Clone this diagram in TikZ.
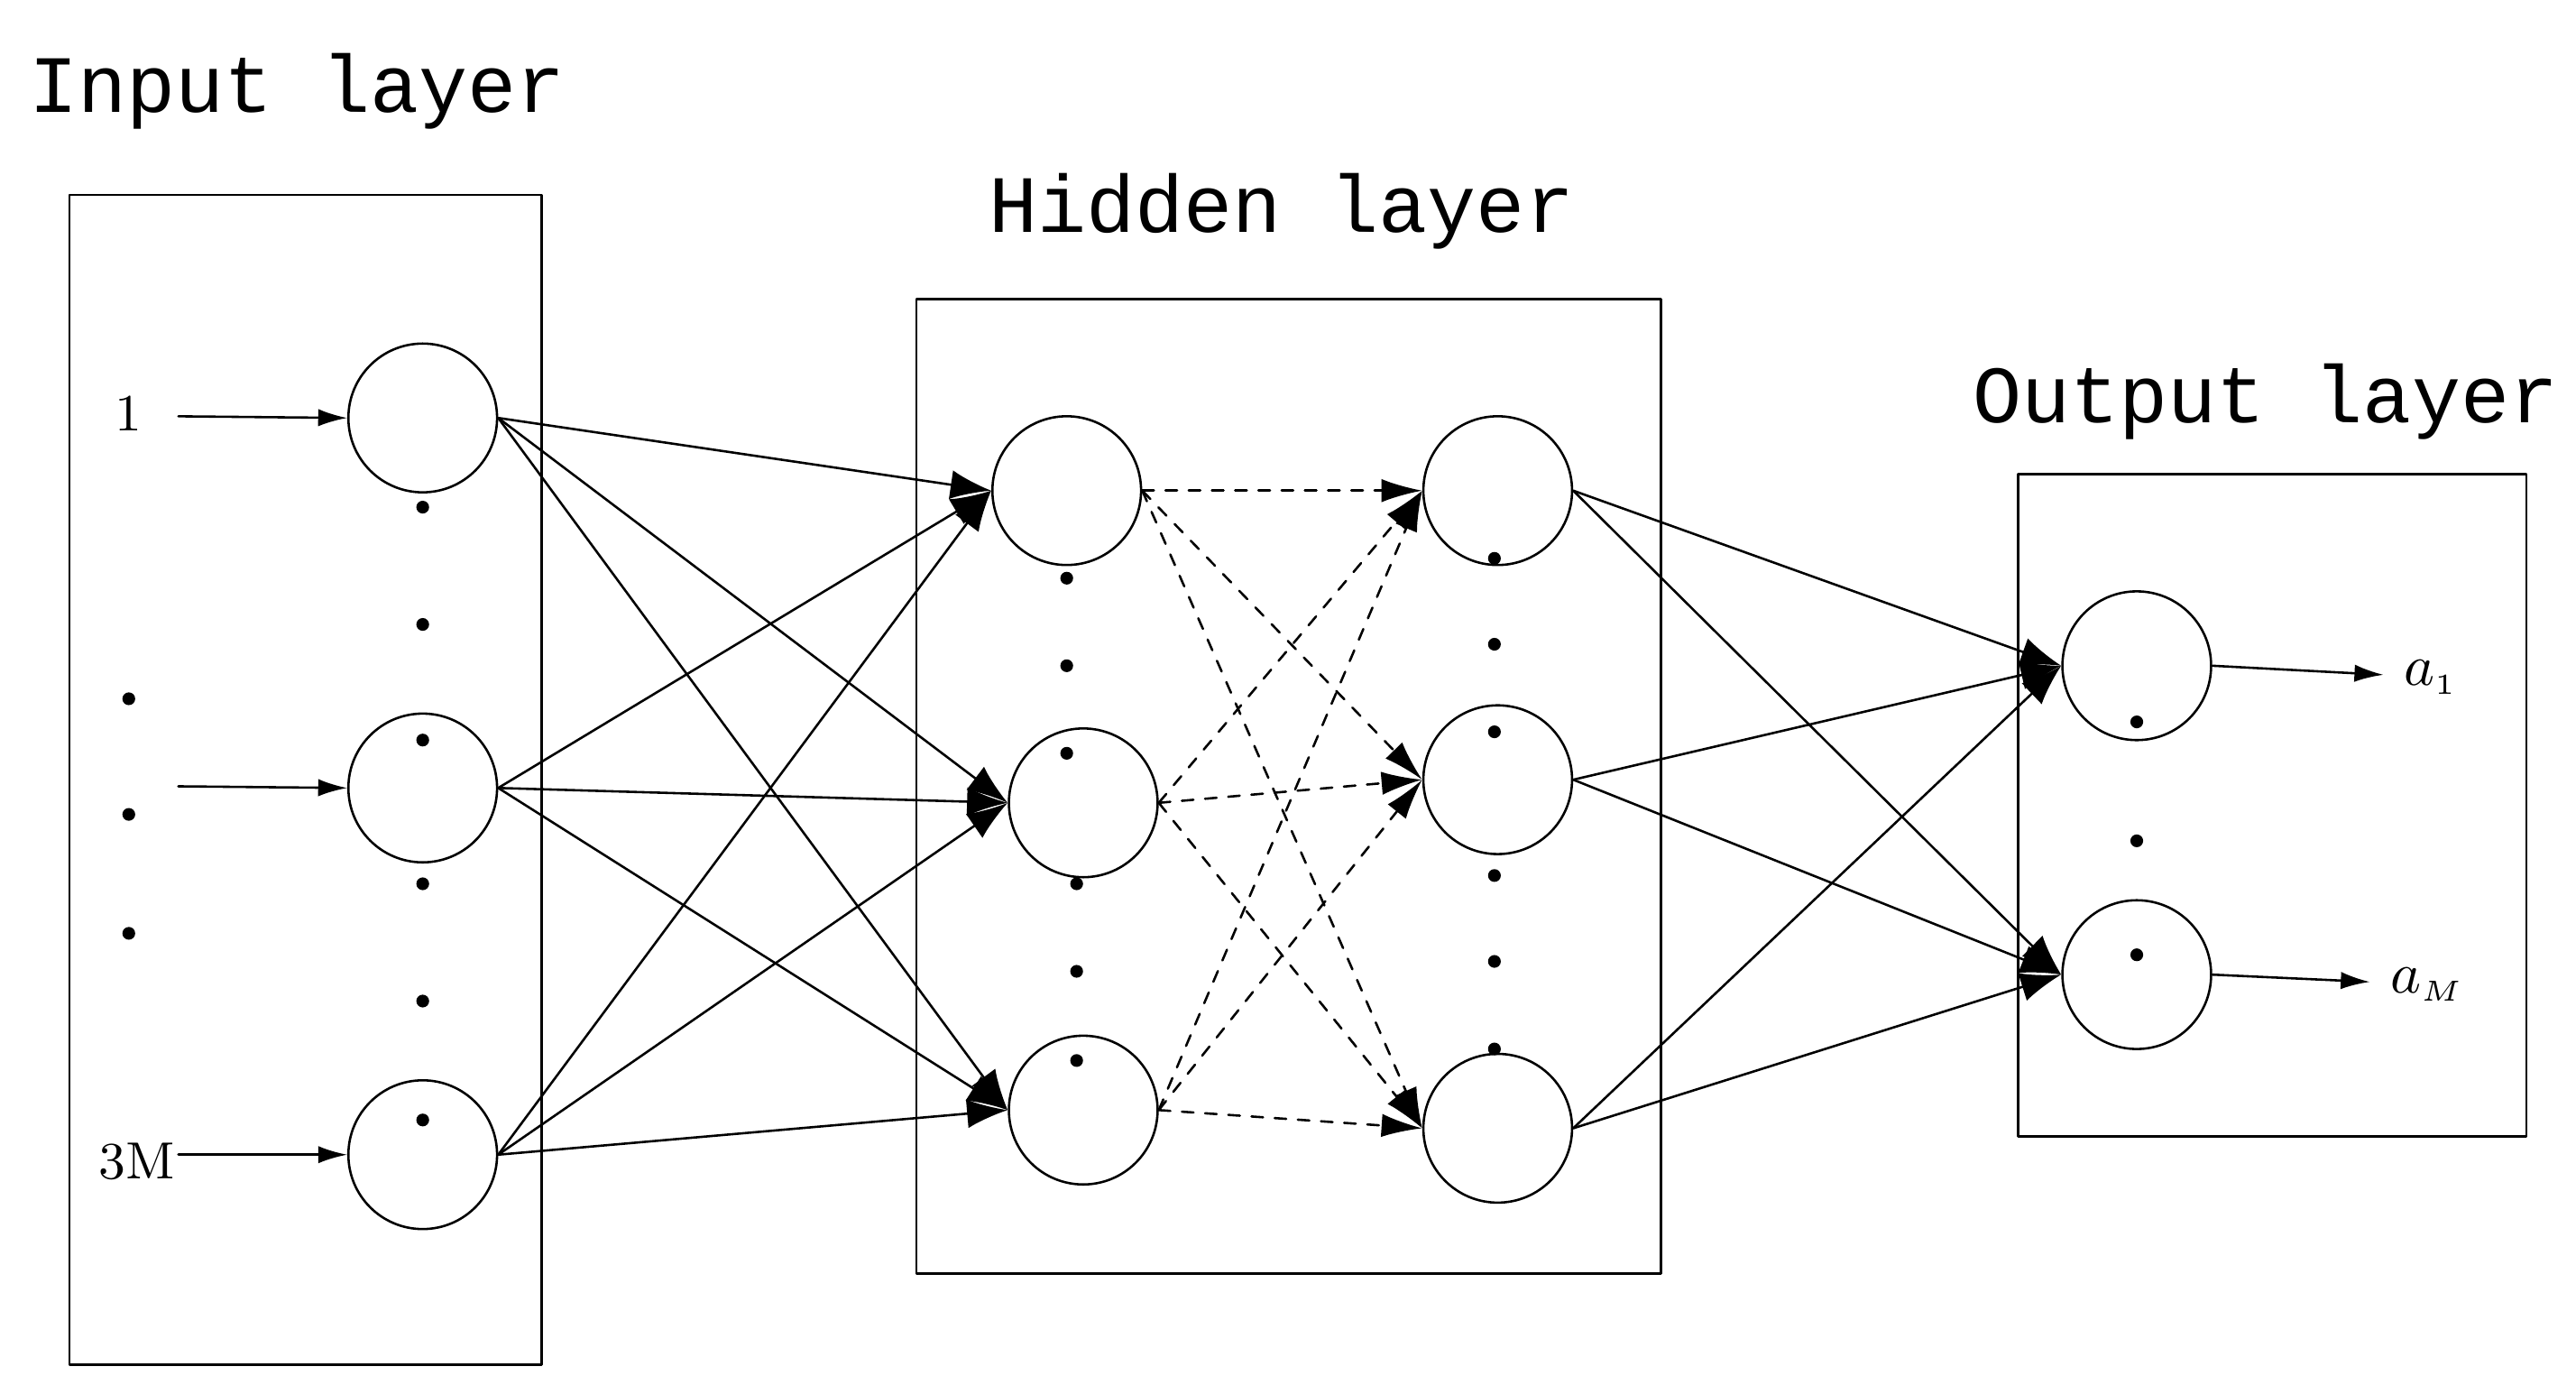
\documentclass[tikz,border=0pt]{standalone}
\usepackage{fontspec}
\newfontfamily\monofont{Liberation Mono}
\usetikzlibrary{arrows.meta}
\tikzset{
  neuron/.style={circle, draw, minimum size=0.9cm, inner sep=0pt},
  layerbox/.style={draw, thin},
  title/.style={font=\monofont\fontsize{14}{16}\selectfont},
  dot/.style={circle, fill, inner sep=0pt, minimum size=2.2pt},
  link/.style={-{Latex[length=7pt,width=5pt]}, thin},
  dlink/.style={-{Latex[length=7pt,width=4pt]}, thin, dash pattern=on 2pt off 2pt},
  io/.style={-{Latex[length=5pt,width=3pt]}, thin}
}
\begin{document}
\begin{tikzpicture}[x=0.01cm, y=-0.01cm, line cap=round, line join=round]
    \useasboundingbox (0,0) rectangle (1560,838);

    % Layer boxes and titles
    \draw[layerbox] (42,118) rectangle (328,826);
    \draw[layerbox] (555,181) rectangle (1006,771);
    \draw[layerbox] (1222,287) rectangle (1530,688);
    \node[title] (tin) at (180,55) {Input layer};
    \node[title] (thid) at (776,128) {Hidden layer};
    \node[title] (tout) at (1372,243) {Output layer};

    % Neurons
    \node[neuron] (i1) at (256,253) {};
    \node[neuron] (i2) at (256,477) {};
    \node[neuron] (i3) at (256,699) {};
    \node[neuron] (h1) at (646,297) {};
    \node[neuron] (h2) at (656,486) {};
    \node[neuron] (h3) at (656,672) {};
    \node[neuron] (g1) at (907,297) {};
    \node[neuron] (g2) at (907,472) {};
    \node[neuron] (g3) at (907,683) {};
    \node[neuron] (o1) at (1294,403) {};
    \node[neuron] (o2) at (1294,590) {};

    % Dots
    \foreach \x/\y in {256/307, 256/378, 256/448, 256/535, 256/606, 256/678,
                       78/423, 78/493, 78/565,
                       646/350, 646/403, 646/456, 652/535, 652/588, 652/642,
                       905/338, 905/390, 905/443, 905/530, 905/582, 905/635,
                       1294/437, 1294/509, 1294/578}
        \node[dot] at (\x,\y) {};

    % Inputs
    \node[font=\small] (x1) at (78,250) {1};
    \node[font=\small, inner sep=1pt] (x3) at (83,703) {3M};
    \coordinate (s1) at (108,252);
    \coordinate (s2) at (108,476);
    \coordinate (s3) at (108,699);
    \draw[io] (s1) -- (i1.west);
    \draw[io] (s2) -- (i2.west);
    \draw[io] (s3) -- (i3.west);

    % Connections
    \foreach \a in {i1,i2,i3}
        \foreach \b in {h1,h2,h3}
            \draw[link] (\a.east) -- (\b.west);
    \foreach \a in {h1,h2,h3}
        \foreach \b in {g1,g2,g3}
            \draw[dlink] (\a.east) -- (\b.west);
    \foreach \a in {g1,g2,g3}
        \foreach \b in {o1,o2}
            \draw[link] (\a.east) -- (\b.west);

    % Outputs
    \node (y1) at (1472,410) {$a_{\scriptscriptstyle 1}$};
    \node (y2) at (1470,596) {$a_{\scriptscriptstyle M}$};
    \draw[io] (o1.east) -- (y1);
    \draw[io] (o2.east) -- (y2);
\end{tikzpicture}
\end{document}
